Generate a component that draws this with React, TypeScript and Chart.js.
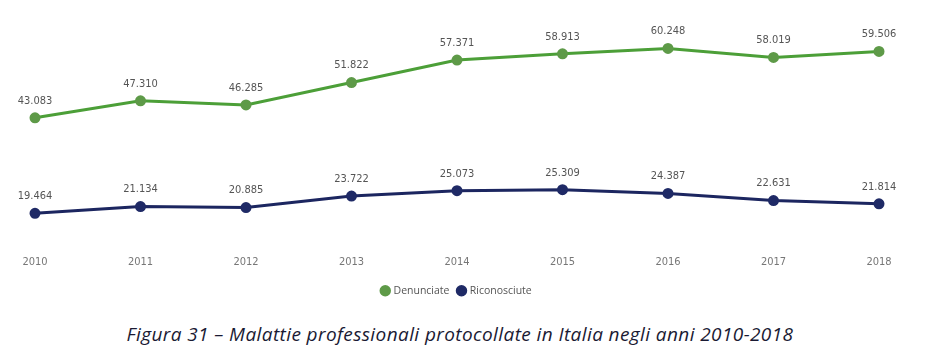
import React, { useEffect, useRef } from "react";
import { Chart, registerables } from "chart.js";

Chart.register(...registerables);

const years = ["2010", "2011", "2012", "2013", "2014", "2015", "2016", "2017", "2018"];
const denunciate = [43083, 47310, 46285, 51822, 57371, 58913, 60248, 58019, 59506];
const riconosciute = [19464, 21134, 20885, 23722, 25073, 25309, 24387, 22631, 21814];
const caption = "Figura 31 – Malattie professionali protocollate in Italia negli anni 2010-2018";

const fmt = (v: number) => {
  const s = String(Math.round(v));
  return s.replace(/\B(?=(\d{3})+(?!\d))/g, ".");
};

const labelPlugin = {
  id: "pointLabels",
  afterDatasetsDraw(chart: any) {
    const ctx = chart.ctx;
    ctx.save();
    ctx.font = "11px 'DejaVu Sans Condensed', 'Liberation Sans Narrow', sans-serif";
    ctx.fillStyle = "#555555";
    ctx.textAlign = "center";
    ctx.textBaseline = "middle";
    chart.data.datasets.forEach((ds: any, i: number) => {
      const meta = chart.getDatasetMeta(i);
      meta.data.forEach((pt: any, j: number) => {
        ctx.fillText(fmt(ds.data[j]), pt.x, pt.y - 17);
      });
    });
    ctx.restore();
  },
};

export default function App() {
  const ref = useRef<HTMLCanvasElement>(null);
  useEffect(() => {
    document.body.style.margin = "0";
    const chart = new Chart(ref.current!, {
      type: "line",
      data: {
        labels: years,
        datasets: [
          {
            label: "Denunciate",
            data: denunciate,
            borderColor: "#4c9f38",
            backgroundColor: "#5e9a48",
            pointBackgroundColor: "#5e9a48",
            pointBorderColor: "#5e9a48",
            borderWidth: 3,
            pointRadius: 4,
            tension: 0,
          },
          {
            label: "Riconosciute",
            data: riconosciute,
            borderColor: "#1c2660",
            backgroundColor: "#1f2a66",
            pointBackgroundColor: "#1f2a66",
            pointBorderColor: "#1f2a66",
            borderWidth: 3,
            pointRadius: 4,
            tension: 0,
          },
        ],
      },
      options: {
        animation: false,
        responsive: false,
        maintainAspectRatio: false,
        layout: { padding: { left: 35, right: 72, top: 0, bottom: 0 } },
        scales: {
          x: {
            offset: false,
            grid: { display: false, drawTicks: false },
            border: { display: false },
            ticks: {
              color: "#777777",
              padding: 8,
              font: { size: 11, family: "'DejaVu Sans Condensed', 'Liberation Sans Narrow', sans-serif" },
            },
          },
          y: {
            display: false,
            min: 11056,
            max: 70509,
          },
        },
        plugins: {
          legend: {
            position: "bottom",
            labels: {
              usePointStyle: true,
              pointStyle: "circle",
              boxWidth: 6,
              boxHeight: 6,
              padding: 9,
              color: "#555555",
              font: { size: 10.5, family: "'Open Sans', sans-serif" },
            },
          },
          tooltip: { enabled: false },
        },
      },
      plugins: [labelPlugin],
    });
    return () => chart.destroy();
  }, []);

  return (
    <div style={{ position: "relative", width: 951, height: 362, background: "#fff" }}>
      <canvas ref={ref} width={951} height={306} style={{ position: "absolute", left: 0, top: 0 }} />
      <div
        style={{
          position: "absolute",
          left: 0,
          top: 321,
          width: 920,
          textAlign: "center",
          fontFamily: "'Open Sans', Lato, sans-serif",
          fontStyle: "italic",
          fontSize: 19,
          letterSpacing: 0.4,
          lineHeight: "normal",
          color: "#1a1a33",
          whiteSpace: "nowrap",
        }}
      >
        {caption}
      </div>
    </div>
  );
}
